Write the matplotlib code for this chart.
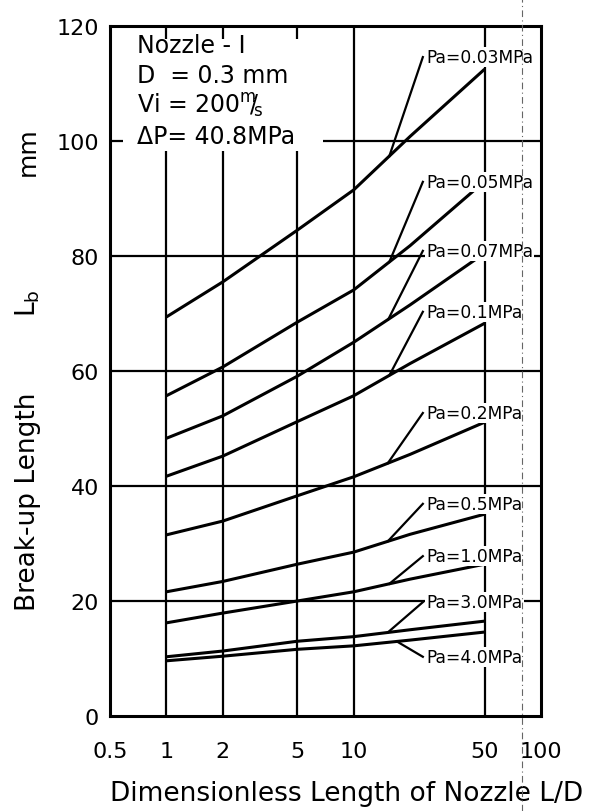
import numpy as np
import matplotlib
matplotlib.use("Agg")
import matplotlib.pyplot as plt
from matplotlib.lines import Line2D
from matplotlib.patches import Rectangle

plt.rcParams['font.family'] = ['DejaVu Sans']

# Nozzle length ratio L/D at which the break-up length was read
ld = [1, 2, 5, 10, 20, 50]

# Break-up length Lb (mm) for each ambient pressure Pa
lb_pa_003 = [69.4, 75.5, 84.5, 91.5, 100.8, 112.5]
lb_pa_005 = [55.7, 60.7, 68.5, 74.1, 81.8, 93.0]
lb_pa_007 = [48.3, 52.2, 59.1, 65.0, 71.5, 80.5]
lb_pa_01 = [41.7, 45.2, 51.2, 55.7, 61.3, 68.3]
lb_pa_02 = [31.5, 33.9, 38.3, 41.6, 45.5, 51.1]
lb_pa_05 = [21.6, 23.4, 26.4, 28.5, 31.6, 35.1]
lb_pa_10 = [16.2, 17.9, 20.0, 21.6, 23.8, 26.4]
lb_pa_30 = [10.3, 11.3, 13.0, 13.8, 15.0, 16.5]
lb_pa_40 = [9.6, 10.4, 11.6, 12.2, 13.2, 14.6]

pa_labels = ["Pa=0.03MPa", "Pa=0.05MPa", "Pa=0.07MPa", "Pa=0.1MPa",
             "Pa=0.2MPa", "Pa=0.5MPa", "Pa=1.0MPa", "Pa=3.0MPa",
             "Pa=4.0MPa"]
series = [lb_pa_003, lb_pa_005, lb_pa_007, lb_pa_01, lb_pa_02, lb_pa_05,
          lb_pa_10, lb_pa_30, lb_pa_40]

x_ticks = [0.5, 1, 2, 5, 10, 50, 100]
x_ticklabels = ["0.5", "1", "2", "5", "10", "50", "100"]
y_ticks = [0, 20, 40, 60, 80, 100, 120]
x_grid = [1, 2, 5, 10, 50]
y_grid = [20, 40, 60, 80, 100]

# label placement (layout only)
label_y = [114.6, 92.9, 80.9, 70.3, 52.7, 36.9, 27.8, 19.8, 10.3]
leader_from = [15.5, 15.5, 15.3, 15.5, 15.2, 15.2, 15.5, 15.2, 17.0]
leader_to = 23.4
label_x = 24.4

fig = plt.figure(figsize=(5.93, 8.12), dpi=100)
ax = fig.add_axes([0.1855, 0.117, 0.7268, 0.8497])
ax.set_xscale("log")
ax.set_xlim(0.5, 100)
ax.set_ylim(0, 120)

for yv in y_grid:
    ax.axhline(yv, color="k", lw=1.6, zorder=1)
for xv in x_grid:
    ax.axvline(xv, color="k", lw=1.6, zorder=1)

# white panel behind the condition text
ax.add_patch(Rectangle((0.030, 0.819), 0.464, 0.162, transform=ax.transAxes,
                       facecolor="white", edgecolor="none", zorder=1.5))
cond = ["Nozzle - I", "D  = 0.3 mm",
        r"Vi = 200$^{\mathregular{m}}\!\!/\!_{\mathregular{s}}$", "ΔP= 40.8MPa"]
cond_y = [0.972, 0.929, 0.886, 0.841]
for t, yy in zip(cond, cond_y):
    ax.text(0.063, yy, t, transform=ax.transAxes, fontsize=17, va="center",
            ha="left", zorder=3)

for vals, lab, ly, lf in zip(series, pa_labels, label_y, leader_from):
    ax.plot(ld, vals, color="k", lw=2.2, zorder=2, solid_capstyle="butt")
    yj = np.interp(np.log10(lf), np.log10(ld), vals)
    ax.plot([lf, leader_to], [yj, ly], color="k", lw=1.6, zorder=2)
    ax.text(label_x, ly, lab, fontsize=12.3, va="center", ha="left", zorder=2.5,
            bbox=dict(facecolor="white", edgecolor="none", pad=0.8))

for s in ax.spines.values():
    s.set_linewidth(2.2)
    s.set_zorder(4)

ax.set_xticks(x_ticks)
ax.set_xticklabels(x_ticklabels)
ax.xaxis.set_minor_locator(matplotlib.ticker.NullLocator())
ax.set_yticks(y_ticks)
ax.tick_params(length=0, labelsize=16)
ax.tick_params(axis="y", pad=8)
ax.tick_params(axis="x", pad=18)

ax.set_xlabel("Dimensionless Length of Nozzle L/D", fontsize=19)
ax.xaxis.set_label_coords(0.55, -0.093)

fig.text(0.047, 1 - 502 / 812, "Break-up Length", rotation=90, fontsize=19,
         ha="center", va="center")
fig.text(0.047, 1 - 303 / 812, r"L$_{\mathregular{b}}$", rotation=90, fontsize=19,
         ha="center", va="center")
fig.text(0.047, 1 - 152 / 812, "mm", rotation=90, fontsize=18,
         ha="center", va="center")

# fold mark on the sheet
fig.add_artist(Line2D([0.880, 0.880], [0, 1], transform=fig.transFigure,
                      color="0.4", lw=0.8, ls=(0, (6, 3, 1, 3))))

fig.savefig("out.png", dpi=100)
